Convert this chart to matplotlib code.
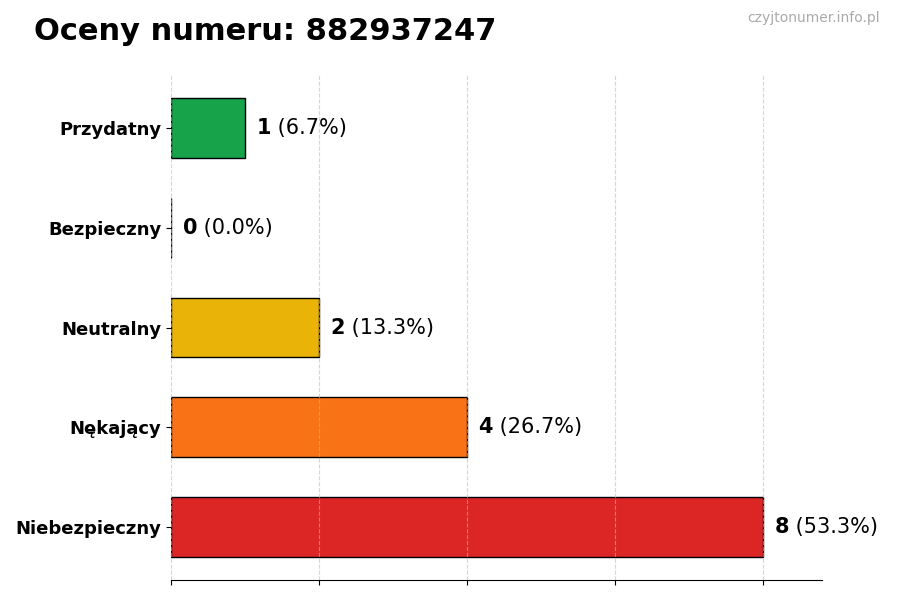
import matplotlib
matplotlib.use("Agg")
import matplotlib.pyplot as plt

categories = ["Przydatny", "Bezpieczny", "Neutralny", "Nękający", "Niebezpieczny"]
counts = [1, 0, 2, 4, 8]
colors = ["#16a34a", "#6b7280", "#eab308", "#f97316", "#dc2626"]
title = "Oceny numeru: 882937247"
watermark = "czyjtonumer.info.pl"

total = sum(counts)
fig = plt.figure(figsize=(9, 6), dpi=100)
ax = fig.add_axes([0.19, 0.0333, 0.723, 0.8417])

ypos = list(range(len(categories)))[::-1]
ax.barh(ypos, counts, height=0.6, color=colors, edgecolor="black", linewidth=1, zorder=2)
ax.set_yticks(ypos)
ax.set_yticklabels(categories, fontsize=13, fontweight="bold")
ax.set_xlim(0, max(counts) * 1.1)
ax.set_xticks([0, 2, 4, 6, 8])
ax.set_xticklabels([])
ax.set_axisbelow(False)
ax.grid(axis="x", linestyle="--", color="#bbbbbb", alpha=0.6, linewidth=0.8, zorder=3)
for s in ["top", "right", "left"]:
    ax.spines[s].set_visible(False)

off = max(counts) * 0.02
for y, c in zip(ypos, counts):
    pct = c / total * 100
    t = ax.text(c + off, y, f"{c}", fontsize=15, fontweight="bold", va="center", ha="left")
    ax.annotate(f" ({pct:.1f}%)", xycoords=t, xy=(1, 0.5), va="center", ha="left", fontsize=15)

fig.text(0.038, 0.948, title, fontsize=22, fontweight="bold", va="center", ha="left")
fig.text(0.978, 0.97, watermark, fontsize=10, color="#aaaaaa", va="center", ha="right")

fig.savefig("out.png", dpi=100)
